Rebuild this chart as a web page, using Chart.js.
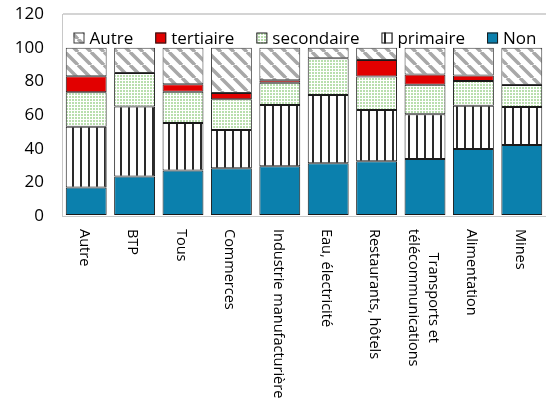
<!DOCTYPE html>
<html>
<head>
<meta charset="utf-8">
<script src="https://cdn.jsdelivr.net/npm/chart.js@4/dist/chart.umd.min.js"></script>
<style>
  html, body { margin: 0; padding: 0; background: #fff; }
  #wrap { width: 546px; height: 406px; }
</style>
</head>
<body>
<div id="wrap"><canvas id="chart"></canvas></div>
<script>
// categories and stacked shares (%)
const categories = ['Autre', 'BTP', 'Tous', 'Commerces', 'Industrie manufacturière', 'Eau, électricité',
  'Restaurants, hôtels', ['Transports et', 'télécommunications'], 'Alimentation', 'Mines'];
const non        = [17.0, 23.5, 27.0, 28.3, 29.5, 31.3, 32.5, 33.8, 39.8, 42.2];
const primaire   = [36.0, 41.5, 28.3, 22.8, 36.4, 40.6, 30.5, 26.6, 25.7, 22.5];
const secondaire = [20.5, 20.0, 18.5, 18.2, 13.3, 21.8, 19.8, 17.6, 14.7, 13.1];
const tertiaire  = [9.5, 0, 4.5, 3.8, 1.4, 0, 9.9, 6.0, 3.2, 0];
const autre      = [17.0, 15.0, 21.7, 26.9, 19.4, 6.3, 7.3, 16.0, 16.6, 22.2];
const yTicks = [0, 20, 40, 60, 80, 100, 120];

const FONT = "'Open Sans', 'DejaVu Sans', sans-serif";

function makePattern(size, draw) {
    const c = document.createElement('canvas');
    c.width = size; c.height = size;
    const g = c.getContext('2d');
    g.fillStyle = '#fff';
    g.fillRect(0, 0, size, size);
    draw(g, size);
    return g.createPattern(c, 'repeat');
}

// vertical black stripes
const stripePat = makePattern(8, (g) => {
    g.fillStyle = '#2a2a2a';
    g.fillRect(0, 0, 2, 8);
});
// light green dots
const dotPat = makePattern(3, (g) => {
    g.fillStyle = '#b9dfae';
    g.fillRect(0, 0, 2, 2);
});
// grey diagonal "\" stripes
const diagPat = makePattern(13, (g, s) => {
    g.strokeStyle = '#a8a8a8';
    g.lineWidth = 3.5;
    for (let k = -1; k <= 1; k++) {
        g.beginPath();
        g.moveTo(k * s, 0);
        g.lineTo(k * s + s, s);
        g.stroke();
    }
});

const common = {
    borderWidth: 1,
    borderSkipped: false,
    barPercentage: 0.845,
    categoryPercentage: 1.0
};

// custom legend drawn inside the plot area, reversed order like the original
const legendPlugin = {
    id: 'insideLegend',
    afterDraw(chart) {
        const ctx = chart.ctx;
        const area = chart.chartArea;
        const items = chart.data.datasets.slice().reverse();
        ctx.save();
        ctx.font = '17px ' + FONT;
        const box = 11, gapText = 5, gapItem = 22;
        const widths = items.map(d => box + gapText + ctx.measureText(d.label).width);
        const total = widths.reduce((a, b) => a + b, 0) + gapItem * (items.length - 1);
        let x = (area.left + area.right) / 2 - total / 2 + 1;
        const y = 38;
        items.forEach((d, i) => {
            ctx.fillStyle = d.backgroundColor;
            ctx.fillRect(x, y - box / 2, box, box);
            ctx.strokeStyle = d.borderColor;
            ctx.lineWidth = 1;
            ctx.strokeRect(x + 0.5, y - box / 2 + 0.5, box - 1, box - 1);
            ctx.fillStyle = '#000';
            ctx.textAlign = 'left';
            ctx.textBaseline = 'middle';
            ctx.fillText(d.label, x + box + gapText, y + 1);
            x += widths[i] + gapItem;
        });
        ctx.restore();
    }
};

// category labels rotated clockwise, reading downward from the axis
const xLabelPlugin = {
    id: 'xLabels',
    afterDraw(chart) {
        const ctx = chart.ctx;
        const xs = chart.scales.x;
        const ys = chart.scales.y;
        ctx.save();
        ctx.font = '14.5px ' + FONT;
        ctx.fillStyle = '#000';
        ctx.textBaseline = 'middle';
        ctx.textAlign = 'left';
        chart.data.labels.forEach((lab, i) => {
            const lines = Array.isArray(lab) ? lab : [lab];
            const px = xs.getPixelForValue(i) - 2;
            const py = ys.getPixelForValue(0) + 13;
            const maxW = Math.max(...lines.map(l => ctx.measureText(l).width));
            ctx.save();
            ctx.translate(px, py);
            ctx.rotate(Math.PI / 2);
            const lh = 20;
            lines.forEach((l, j) => {
                const off = (maxW - ctx.measureText(l).width) / 2;
                const ly = (j - (lines.length - 1) / 2) * lh;
                ctx.fillText(l, lines.length > 1 ? off : 0, ly);
            });
            ctx.restore();
        });
        ctx.restore();
    }
};

new Chart(document.getElementById('chart'), {
    type: 'bar',
    data: {
        labels: categories,
        datasets: [
            { label: 'Non', data: non, backgroundColor: '#0b80ad', borderColor: '#1a1a1a', ...common },
            { label: 'primaire', data: primaire, backgroundColor: stripePat, borderColor: '#1a1a1a', ...common },
            { label: 'secondaire', data: secondaire, backgroundColor: dotPat, borderColor: '#1a1a1a', ...common },
            { label: 'tertiaire', data: tertiaire, backgroundColor: '#e20000', borderColor: '#1a1a1a', ...common },
            { label: 'Autre', data: autre, backgroundColor: diagPat, borderColor: '#3a3a3a', ...common }
        ]
    },
    options: {
        responsive: true,
        maintainAspectRatio: false,
        animation: false,
        layout: { padding: { top: 14, bottom: 182, left: 0, right: 0 } },
        plugins: {
            legend: { display: false },
            tooltip: { enabled: false }
        },
        scales: {
            x: {
                stacked: true,
                grid: { display: false },
                border: { display: true, color: '#c8c8c8', width: 1 },
                ticks: { display: false }
            },
            y: {
                stacked: true,
                min: 0,
                max: 120,
                afterBuildTicks: (scale) => { scale.ticks = yTicks.map(v => ({ value: v })); },
                afterFit: (scale) => { scale.width = 62; },
                grid: {
                    drawTicks: true,
                    tickLength: 18,
                    tickColor: 'rgba(0,0,0,0)',
                    color: (c) => (c.tick && c.tick.value === 120) ? '#d4d4d4' : 'rgba(0,0,0,0)',
                    lineWidth: 2
                },
                border: { display: true, color: '#c8c8c8', width: 1 },
                ticks: {
                    padding: 0,
                    color: '#000',
                    font: { family: FONT, size: 17 }
                }
            }
        }
    },
    plugins: [legendPlugin, xLabelPlugin]
});
</script>
</body>
</html>
